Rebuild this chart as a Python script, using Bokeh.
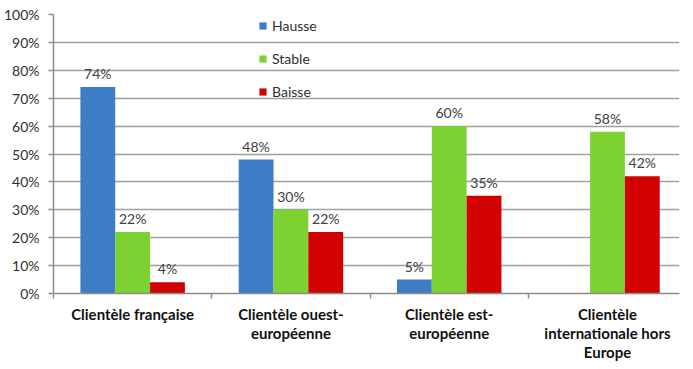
from bokeh.plotting import figure
from bokeh.models import ColumnDataSource, Range1d, FixedTicker, Legend, LegendItem
from bokeh.core.properties import value
from bokeh.embed import file_html
from bokeh.resources import INLINE

categories = ["Clientèle française", "Clientèle ouest-\neuropéenne",
              "Clientèle est-\neuropéenne", "Clientèle\ninternationale hors\nEurope"]
hausse = [74, 48, 5, None]
stable = [22, 30, 60, 58]
baisse = [4, 22, 35, 42]
series_names = ["Hausse", "Stable", "Baisse"]
colors = ["#3D7DC6", "#7DD232", "#D20000"]
y_ticks = [0, 10, 20, 30, 40, 50, 60, 70, 80, 90, 100]

FONT = "Lato"
centers = [i + 0.5 for i in range(len(categories))]
offsets = [-0.22, 0.0, 0.22]
bar_w = 0.22

p = figure(frame_width=626, frame_height=279, output_backend="svg", toolbar_location=None,
           x_range=Range1d(0, 3.955), y_range=Range1d(0, 100),
           min_border_left=52, min_border_top=14, min_border_right=5, min_border_bottom=60)
p.outline_line_color = None
p.background_fill_color = "white"

items = []
for name, vals, col, off in zip(series_names, [hausse, stable, baisse], colors, offsets):
    xs = [c + off for c, v in zip(centers, vals) if v is not None]
    ys = [v for v in vals if v is not None]
    src = ColumnDataSource(dict(x=xs, top=ys, lbl=[f"{v}%" for v in ys]))
    r = p.vbar(x="x", top="top", width=bar_w, bottom=0, source=src,
               fill_color=col, line_color=None)
    p.text(x="x", y="top", text="lbl", source=src, text_align="center",
           text_baseline="bottom", y_offset=-5, text_font=value(FONT),
           text_font_size="14px", text_color="#404040")
    items.append(LegendItem(label=name, renderers=[r]))

legend = Legend(items=items, location=(205, 192), padding=0, margin=0,
                border_line_color=None, background_fill_alpha=0,
                glyph_width=9, glyph_height=9, label_height=20, spacing=13,
                label_standoff=5, label_text_font=FONT, label_text_font_size="14px",
                label_text_color="#303030")
p.add_layout(legend, "center")

# y axis
p.yaxis.ticker = FixedTicker(ticks=y_ticks)
p.yaxis.major_label_overrides = {t: f"{t}%" for t in y_ticks}
p.yaxis.major_label_text_font = FONT
p.yaxis.major_label_text_font_size = "14px"
p.yaxis.major_label_text_color = "#303030"
p.yaxis.axis_line_color = "#8c8c8c"
p.yaxis.axis_line_width = 1.5
p.yaxis.major_tick_line_color = "#8c8c8c"
p.yaxis.major_tick_line_width = 1.5
p.yaxis.major_tick_out = 5
p.yaxis.major_tick_in = 0
p.yaxis.minor_tick_line_color = None
p.yaxis.major_label_standoff = 9

# x axis
p.xaxis.ticker = FixedTicker(ticks=centers, minor_ticks=[0, 1, 2, 3])
p.xaxis.major_label_overrides = {c: lab for c, lab in zip(centers, categories)}
p.xaxis.major_label_text_font = FONT
p.xaxis.major_label_text_font_size = "15px"
p.xaxis.major_label_text_font_style = "bold"
p.xaxis.major_label_text_color = "#111111"
p.xaxis.major_label_text_line_height = 1.08
p.xaxis.major_tick_line_color = None
p.xaxis.minor_tick_line_color = "#8c8c8c"
p.xaxis.minor_tick_line_width = 1.5
p.xaxis.minor_tick_out = 5
p.xaxis.minor_tick_in = 0
p.xaxis.axis_line_color = "#8c8c8c"
p.xaxis.axis_line_width = 1.5
p.xaxis.major_label_standoff = 5

p.xgrid.grid_line_color = None
p.ygrid.ticker = FixedTicker(ticks=y_ticks)
p.ygrid.grid_line_color = "#a0a0a0"
p.ygrid.grid_line_width = 1.5

open("out.html", "w").write(file_html(p, INLINE))
